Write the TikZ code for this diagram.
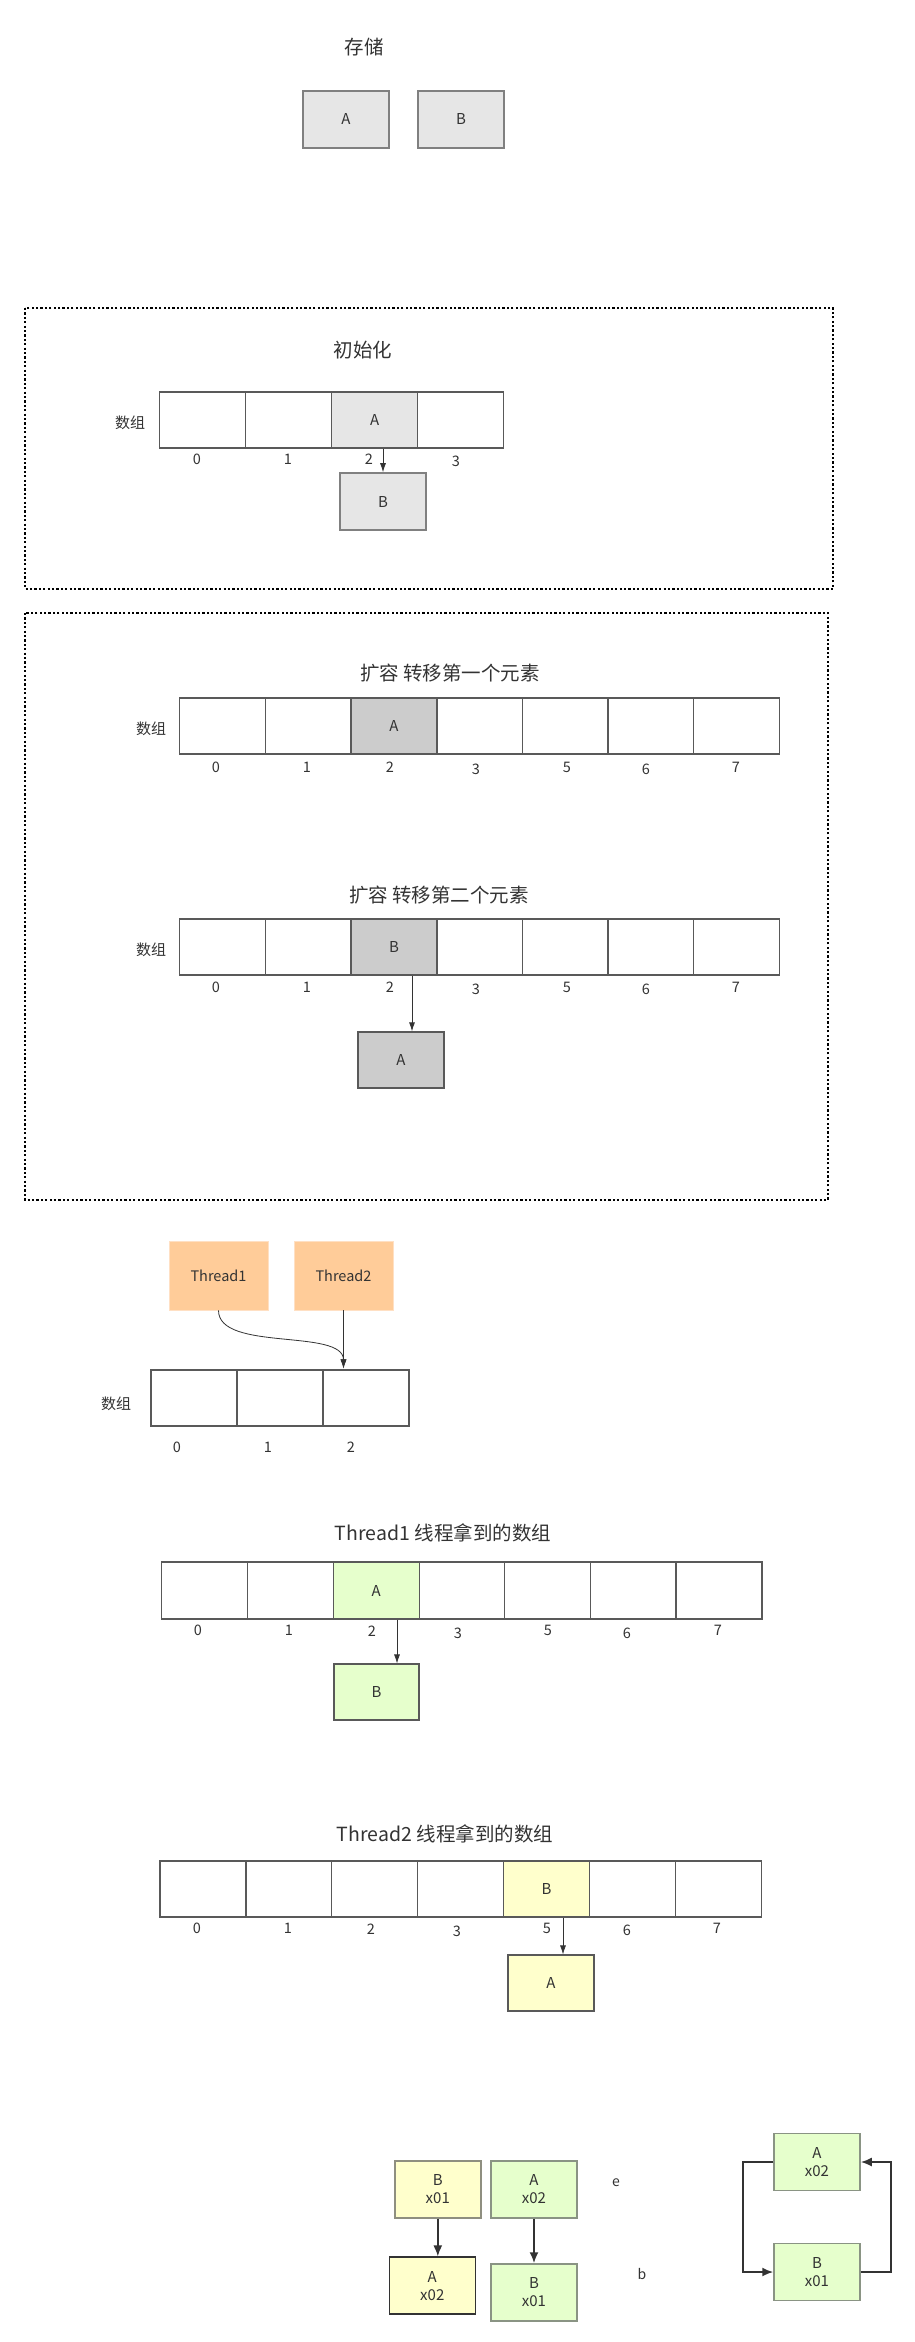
\documentclass[tikz,border=0pt]{standalone}
\usepackage{fontspec}
\setmainfont{Noto Sans CJK SC}
\usetikzlibrary{arrows.meta}
\definecolor{txt}{HTML}{333333}
\definecolor{cellline}{HTML}{595959}
\definecolor{gline}{HTML}{808080}
\definecolor{gfill}{HTML}{E6E6E6}
\definecolor{gfillb}{HTML}{CCCCCC}
\definecolor{greenf}{HTML}{E6FFCC}
\definecolor{greenl}{HTML}{8A9484}
\definecolor{yellowf}{HTML}{FFFFCC}
\definecolor{yellowl}{HTML}{8F8F80}
\definecolor{orangef}{HTML}{FFCC99}
\definecolor{orangel}{HTML}{FFE0C4}
\begin{document}
\begin{tikzpicture}[x=1pt,y=-1pt,
  every node/.style={text=txt},
  cell/.style={draw=cellline,line width=1.1pt,minimum width=86pt,minimum height=56pt,inner sep=0pt,font=\fontsize{15}{18}\selectfont},
  gbox/.style={draw=gline,fill=gfill,line width=1.6pt,minimum width=86pt,minimum height=57pt,inner sep=0pt,font=\fontsize{15}{18}\selectfont},
  gcell/.style={cell,fill=gfillb},
  greencell/.style={cell,fill=greenf,draw=cellline},
  yellowcell/.style={cell,fill=yellowf,draw=cellline},
  greenbox/.style={draw=greenl,fill=greenf,line width=1.5pt,minimum width=86pt,minimum height=57pt,inner sep=0pt,align=center,font=\fontsize{15}{18}\selectfont},
  yellowbox/.style={draw=yellowl,fill=yellowf,line width=1.5pt,minimum width=86pt,minimum height=57pt,inner sep=0pt,align=center,font=\fontsize{15}{18}\selectfont},
  thread/.style={draw=orangel,fill=orangef,line width=0.8pt,minimum width=99pt,minimum height=69pt,inner sep=0pt,font=\fontsize{14.5}{17}\selectfont},
  ttl/.style={font=\fontsize{19.5}{23}\selectfont},
  idx/.style={font=\fontsize{14.5}{16}\selectfont},
  arrlbl/.style={font=\fontsize{15}{18}\selectfont},
  small/.style={font=\fontsize{14}{16}\selectfont},
  arr/.style={draw=txt,line width=0.8pt,-{Latex[length=9pt,width=6pt]}},
  tarr/.style={draw=txt,line width=1.9pt,-{Latex[length=11pt,width=9pt]}},
  dbox/.style={draw=black,line width=1.3pt,dash pattern=on 2.2pt off 2.2pt}
]
\fill[white] (0,0) rectangle (915,2342);
\useasboundingbox (0,0) rectangle (915,2342);

% ---------- 存储 ----------
\node[ttl] (tstore) at (364,47) {存储};
\node[gbox] (sA) at (346,119.5) {A};
\node[gbox] (sB) at (461,119.5) {B};

% ---------- 初始化 ----------
\draw[dbox] (25,308) rectangle (833,589);
\node[ttl] (tinit) at (363,350) {初始化};
\node[arrlbl] (l1) at (130,423) {数组};
\foreach \i in {0,...,3} \node[cell] (a1c\i) at ({202.1+86.25*\i},420) {};
\node[cell,fill=gfill] (a1c2) at ({202.1+86.25*2},420) {A};
\node[idx] (i1a) at (197,459) {0};
\node[idx] (i1b) at (288,459) {1};
\node[idx] (i1c) at (369,459) {2};
\node[idx] (i1d) at (456,461) {3};
\node[gbox] (b1) at (383,501.5) {B};
\draw[arr] (b1.north |- a1c2.south) -- (b1.north);

% ---------- 扩容 ----------
\draw[dbox] (25,613) rectangle (828,1200);
\node[ttl] (tex1) at (450,673) {扩容 转移第一个元素};
\node[arrlbl] (l2) at (151,729) {数组};
\foreach \i in {0,...,6} \node[cell] (a2c\i) at ({222.8+85.6*\i},726) {};
\node[gcell] (a2c2) at ({222.8+85.6*2},726) {A};
\foreach \x/\y/\t in {216/767/0,307/767/1,390/767/2,476/769/3,567/767/5,646/769/6,736/767/7}
  \node[idx] at (\x,\y) {\t};

\node[ttl] (tex2) at (439,895) {扩容 转移第二个元素};
\node[arrlbl] (l3) at (151,950) {数组};
\foreach \i in {0,...,6} \node[cell] (a3c\i) at ({222.8+85.6*\i},947) {};
\node[gcell] (a3c2) at ({222.8+85.6*2},947) {B};
\foreach \x/\y/\t in {216/987/0,307/987/1,390/987/2,476/989/3,567/987/5,646/989/6,736/987/7}
  \node[idx] at (\x,\y) {\t};
\node[gcell,line width=1.3pt,minimum height=56pt] (A2) at (401,1060) {A};
\draw[arr] ([xshift=11pt]A2.north |- a3c2.south) -- ([xshift=11pt]A2.north);

% ---------- Threads ----------
\node[thread] (t1) at (218.5,1275.5) {Thread1};
\node[thread] (t2) at (343.5,1275.5) {Thread2};
\node[arrlbl] (l4) at (116,1404) {数组};
\foreach \i in {0,...,2} \node[cell] (a4c\i) at ({194+86*\i},1398) {};
\foreach \x/\t in {177/0,268/1,351/2} \node[idx] at (\x,1447) {\t};
\coordinate (hit) at (t2.south |- a4c2.north);
\draw[arr] (t1.south) .. controls (218.5,1352) and (343.5,1328) .. ([yshift=1pt]hit);
\draw[arr] (t2.south) -- ([yshift=1pt]hit);

% ---------- Thread1 array ----------
\node[ttl] (tt1) at (443,1533) {Thread1 线程拿到的数组};
\foreach \i in {0,...,6} \node[cell,minimum height=57pt] (a5c\i) at ({204.8+85.7*\i},1590.5) {};
\node[greencell,minimum height=57pt] (a5c2) at ({204.8+85.7*2},1590.5) {A};
\foreach \x/\y/\t in {198/1630/0,289/1630/1,372/1631/2,458/1633/3,548/1630/5,627/1633/6,718/1630/7}
  \node[idx] at (\x,\y) {\t};
\node[cell,fill=greenf,minimum width=85pt] (B4) at (376.5,1692) {B};
\draw[arr] ([xshift=20.5pt]B4.north |- a5c2.south) -- ([xshift=20.5pt]B4.north);

% ---------- Thread2 array ----------
\node[ttl] (tt2) at (445,1834) {Thread2 线程拿到的数组};
\foreach \i in {0,...,6} \node[cell] (a6c\i) at ({203+85.9*\i},1889) {};
\node[yellowcell] (a6c4) at ({203+85.9*4},1889) {B};
\foreach \x/\y/\t in {197/1928/0,288/1928/1,371/1929/2,457/1931/3,547/1928/5,627/1930/6,717/1928/7}
  \node[idx] at (\x,\y) {\t};
\node[cell,fill=yellowf] (A5) at (551,1983) {A};
\draw[arr] ([xshift=12pt]A5.north |- a6c4.south) -- ([xshift=12pt]A5.north);

% ---------- bottom ----------
\node[yellowbox] (by) at (437.8,2189.3) {B\\x01};
\node[greenbox] (ag) at (534,2189.3) {A\\x02};
\node[yellowbox,draw=txt] (ay) at (432.3,2285.7) {A\\x02};
\node[greenbox] (bg) at (534,2292.5) {B\\x01};
\draw[tarr] (by.south) -- (by.south |- ay.north);
\draw[tarr] (ag.south) -- (bg.north);
\node[small] (le) at (616,2183) {e};
\node[small] (lb) at (642,2274) {b};

\node[greenbox] (ra) at (817,2162) {A\\x02};
\node[greenbox] (rb) at (817,2272) {B\\x01};
\draw[tarr] (ra.west) -- ++(-30,0) |- (rb.west);
\draw[tarr] (rb.east) -- ++(30,0) |- (ra.east);
\end{tikzpicture}
\end{document}
